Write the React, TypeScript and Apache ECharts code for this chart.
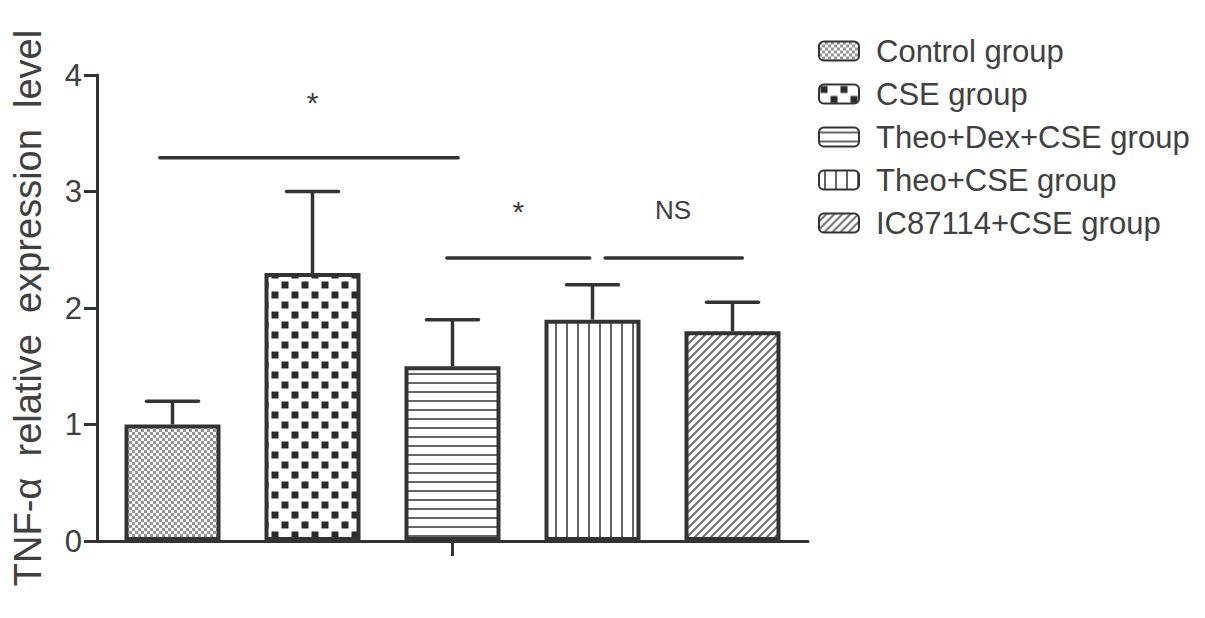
import React, { useEffect, useRef } from "react";
import * as echarts from "echarts";

// ---- data ----
const groups = ["Control group", "CSE group", "Theo+Dex+CSE group", "Theo+CSE group", "IC87114+CSE group"];
const means = [1.0, 2.3, 1.5, 1.9, 1.8];
const errorTops = [1.2, 3.0, 1.9, 2.2, 2.05];
const yTicks = [0, 1, 2, 3, 4];
const yTitle = "TNF-α  relative  expression  level";
// significance brackets (positions in bar-index units, heights in axis units)
const bracketStarts = [-0.09, 1.96, 3.09];
const bracketEnds = [2.04, 2.98, 4.07];
const bracketLevels = [3.29, 2.43, 2.43];
const bracketLabelPos = [1.0, 2.47, 3.575];
const bracketLabelLevels = [3.76, 2.83, 2.84];
const bracketLabels = ["*", "*", "NS"];

// ---- style ----
const FONT = "'Liberation Sans', Arial, sans-serif";
const DARK = "#333333";
const TEXT = "#404040";
const BAR_W = 96;
const BAR_GAP = 140 / 96 - 1;
const STEP = BAR_W * (1 + BAR_GAP);
const PATTERNS = ["dots", "checker", "hlines", "vlines", "diag"];

function makePattern(kind: string): HTMLCanvasElement {
  const c = document.createElement("canvas");
  let w = 6, h = 6;
  if (kind === "checker") { w = 20; h = 20; }
  if (kind === "hlines") { w = 8; h = 9; }
  if (kind === "vlines") { w = 11; h = 8; }
  if (kind === "diag") { w = 8; h = 8; }
  c.width = w; c.height = h;
  const ctx = c.getContext("2d")!;
  ctx.fillStyle = "#ffffff";
  ctx.fillRect(0, 0, w, h);
  if (kind === "dots") {
    ctx.fillStyle = "#959595";
    ctx.fillRect(0, 0, 3, 3);
    ctx.fillRect(3, 3, 3, 3);
  } else if (kind === "checker") {
    ctx.fillStyle = "#2a2a2a";
    ctx.fillRect(1.5, 1.5, 7, 7);
    ctx.fillRect(11.5, 11.5, 7, 7);
  } else if (kind === "hlines") {
    ctx.fillStyle = "#666666";
    ctx.fillRect(0, 4, w, 2);
  } else if (kind === "vlines") {
    ctx.fillStyle = "#666666";
    ctx.fillRect(5, 0, 2, h);
  } else if (kind === "diag") {
    ctx.strokeStyle = "#6e6e6e";
    ctx.lineWidth = 2;
    ctx.beginPath();
    ctx.moveTo(-2, 10); ctx.lineTo(10, -2);
    ctx.moveTo(-2, 2); ctx.lineTo(2, -2);
    ctx.moveTo(6, 10); ctx.lineTo(10, 6);
    ctx.stroke();
  }
  return c;
}

export default function App() {
  const ref = useRef<HTMLDivElement>(null);
  useEffect(() => {
    document.body.style.margin = "0";
    const chart = echarts.init(ref.current!, undefined, { renderer: "svg" });

    const barSeries = groups.map((g, i) => ({
      type: "bar",
      name: g,
      xAxisIndex: 0,
      data: [means[i]],
      barWidth: BAR_W,
      barGap: (BAR_GAP * 100).toFixed(2) + "%",
      itemStyle: {
        color: { image: makePattern(PATTERNS[i]), repeat: "repeat" },
        borderColor: DARK,
        borderWidth: 4,
      },
      z: 3,
    }));

    const errorSeries = {
      type: "custom",
      xAxisIndex: 0,
      encode: { x: 0, y: 1 },
      data: groups.map((_, i) => [0, errorTops[i], i, means[i]]),
      z: 2,
      renderItem: (params: any, api: any) => {
        const top = api.coord([0, api.value(1)]);
        const bottom = api.coord([0, api.value(3)]);
        const cx = top[0] + (api.value(2) - 2) * STEP;
        const style = { stroke: DARK, lineWidth: 3.5, fill: "none" };
        return {
          type: "group",
          children: [
            { type: "line", shape: { x1: cx, y1: bottom[1], x2: cx, y2: top[1] }, style },
            { type: "line", shape: { x1: cx - 26, y1: top[1], x2: cx + 26, y2: top[1] }, style: { ...style, lineCap: "round" } },
          ],
        };
      },
    };

    const bracketSeries = {
      type: "custom",
      xAxisIndex: 0,
      encode: { x: 0, y: 1 },
      data: bracketStarts.map((s, i) => [0, bracketLevels[i], s, bracketEnds[i], bracketLabelPos[i], bracketLabelLevels[i]]),
      z: 4,
      renderItem: (params: any, api: any) => {
        const p = api.coord([0, api.value(1)]);
        const x1 = p[0] + (api.value(2) - 2) * STEP;
        const x2 = p[0] + (api.value(3) - 2) * STEP;
        const lx = p[0] + (api.value(4) - 2) * STEP;
        const ly = api.coord([0, api.value(5)])[1];
        const label = bracketLabels[params.dataIndex];
        return {
          type: "group",
          children: [
            { type: "line", shape: { x1, y1: p[1], x2, y2: p[1] }, style: { stroke: DARK, lineWidth: 3.5, lineCap: "round" } },
            {
              type: "text",
              x: lx,
              y: ly,
              style: {
                text: label,
                fontSize: label === "*" ? 30 : 26,
                fontFamily: FONT,
                fill: TEXT,
                align: "center",
                verticalAlign: "middle",
              },
            },
          ],
        };
      },
    };

    chart.setOption({
      animation: false,
      backgroundColor: "#ffffff",
      grid: { left: 97, right: 397, top: 75, bottom: 77, containLabel: false },
      legend: {
        orient: "vertical",
        left: 813,
        top: 30,
        itemWidth: 40,
        itemHeight: 19,
        itemGap: 11,
        selectedMode: false,
        data: groups,
        textStyle: {
          fontSize: 31,
          lineHeight: 32,
          fontFamily: FONT,
          color: TEXT,
          padding: [0, 0, 0, 12],
        },
      },
      xAxis: [
        {
          type: "category",
          data: [""],
          axisLine: { lineStyle: { color: DARK, width: 3 } },
          axisTick: { show: true, alignWithLabel: true, length: 15, lineStyle: { color: DARK, width: 3 } },
          axisLabel: { show: false },
          splitLine: { show: false },
        },
      ],
      yAxis: {
        type: "value",
        min: yTicks[0],
        max: yTicks[yTicks.length - 1],
        interval: 1,
        name: yTitle,
        nameLocation: "middle",
        nameRotate: 90,
        nameGap: 50,
        nameTextStyle: { fontSize: 38, fontFamily: FONT, color: TEXT },
        axisLine: { show: true, lineStyle: { color: DARK, width: 3 } },
        axisTick: { show: true, length: 13, lineStyle: { color: DARK, width: 3 } },
        axisLabel: { fontSize: 31, fontFamily: FONT, color: TEXT, margin: 15 },
        splitLine: { show: false },
      },
      series: [...barSeries, errorSeries, bracketSeries],
    });
    return () => chart.dispose();
  }, []);
  return <div ref={ref} style={{ width: 1205, height: 618 }} />;
}
